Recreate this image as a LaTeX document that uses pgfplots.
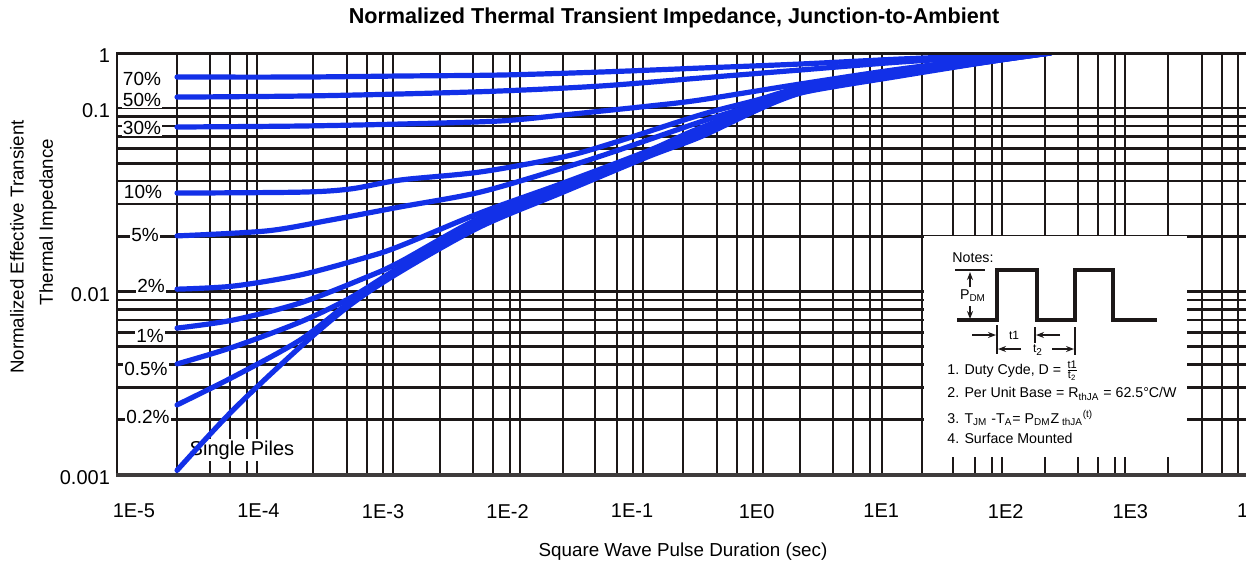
\documentclass[border=0pt]{standalone}
\usepackage{pgfplots}
\pgfplotsset{compat=1.18}
\usepackage{fontspec}
\setmainfont{Liberation Sans}
\usetikzlibrary{arrows.meta}
\definecolor{zblue}{RGB}{18,48,232}
\definecolor{gridk}{RGB}{28,24,24}
\newcommand{\pctfont}{\fontsize{9.5}{11}\selectfont}
\newcommand{\notefont}{\fontsize{7.1}{8.5}\selectfont}
\pgfplotsset{curve/.style={draw=zblue, line width=2.6pt, smooth, tension=0.5, line cap=round, no markers}}
\begin{document}
\begin{tikzpicture}
\begin{axis}[
  name=ax, at={(0,0)}, anchor=south west,
  scale only axis, width=575.15pt, height=211pt,
  xmode=log, ymode=log,
  xmin=7.315e-6, xmax=12589, ymin=0.001, ymax=0.19945,
  axis line style={draw=none},
  major tick length=0pt, minor tick length=0pt,
  xtick={1e-5,1e-4,1e-3,1e-2,1e-1,1,10,100,1000,10000},
  xticklabels={1E-5,1E-4,1E-3,1E-2,1E-1,1E0,1E1,1E2,1E3,1E4},
  minor xtick={2.22e-5,4.08e-5,5.92e-5,8.09e-5,9.73e-5,2.74e-4,5.14e-4,7.45e-4,1.0e-3,1.20e-3,2.87e-3,5.28e-3,7.64e-3,1.05e-2,1.26e-2,2.79e-2,5.04e-2,7.57e-2,0.1016,0.1222,0.2564,0.481,0.695,0.935,1.125,2.228,4.10,5.94,8.13,10.14,21.28,37.67,56.6,77.6,93.3,206.5,380.2,550.8,753.4,905.7,2009,3767,5445,7328,8810},
  xmajorgrids=false, xminorgrids=true,
  ytick={0.001,0.01,0.1,0.19945},
  yticklabels={0.001,0.01,0.1,1},
  minor ytick={0.002,0.003,0.004,0.005,0.006,0.007,0.008,0.009,0.02,0.03,0.04,0.05,0.06,0.07,0.08,0.09},
  ymajorgrids=true, yminorgrids=true,
  major grid style={gridk, line width=1.3pt},
  minor grid style={gridk, line width=1.3pt},
  xticklabel style={font=\fontsize{10}{12}\selectfont, yshift=-11pt},
  yticklabel style={font=\fontsize{10}{12}\selectfont, yshift=-1.5pt},
  y filter/.expression={ln(rawy) > -2.302585 ? -2.302585+(ln(rawy)+2.302585)*0.2997 : ln(rawy)},
]
% curve labels (below the curves)
\node[fill=white, inner sep=0.6pt, font=\pctfont] at (rel axis cs:0.02173,0.9384) {70\%};
\node[fill=white, inner sep=0.6pt, font=\pctfont] at (rel axis cs:0.02173,0.8886) {50\%};
\node[fill=white, inner sep=0.6pt, font=\pctfont] at (rel axis cs:0.02173,0.8223) {30\%};
\node[fill=white, inner sep=0.6pt, font=\pctfont] at (rel axis cs:0.0226,0.6706) {10\%};
\node[fill=white, inner sep=0.6pt, font=\pctfont] at (rel axis cs:0.02434,0.5687) {5\%};
\node[fill=white, inner sep=0.6pt, font=\pctfont] at (rel axis cs:0.02956,0.4479) {2\%};
\node[fill=white, inner sep=0.6pt, font=\pctfont] at (rel axis cs:0.02869,0.3294) {1\%};
\node[fill=white, inner sep=0.6pt, font=\pctfont] at (rel axis cs:0.02521,0.2512) {0.5\%};
\node[fill=white, inner sep=0.6pt, font=\pctfont] at (rel axis cs:0.02695,0.1374) {0.2\%};
\node[fill=white, inner sep=1pt, font=\fontsize{10}{12}\selectfont] at (rel axis cs:0.10867,0.05924) {Single Piles};
% 70%
\addplot[curve] coordinates {(2.22e-5,0.366) (2.16e-4,0.366) (1.37e-3,0.382) (8.70e-3,0.398) (5.53e-2,0.451) (0.351,0.533) (2.23,0.631) (14.2,0.778) (89.9,0.920) (227,1.0)};
% 50%
\addplot[curve] coordinates {(2.22e-5,0.158) (2.16e-4,0.165) (1.37e-3,0.180) (8.70e-3,0.204) (5.53e-2,0.251) (0.351,0.351) (2.23,0.491) (14.2,0.686) (89.9,0.882) (227,1.0)};
% 30%
\addplot[curve] coordinates {(2.22e-5,0.0788) (2.16e-4,0.0798) (1.37e-3,0.0818) (8.70e-3,0.0850) (2.79e-2,0.0916) (0.139,0.109) (0.351,0.140) (2.23,0.273) (14.2,0.512) (89.9,0.846) (227,1.0)};
% 10%
\addplot[curve] coordinates {(2.22e-5,0.0344) (2.16e-4,0.0348) (5.44e-4,0.0362) (1.37e-3,0.0405) (6.01e-3,0.0448) (2.79e-2,0.0541) (7.02e-2,0.0645) (0.351,0.0916) (1.01,0.140) (2.23,0.231) (14.2,0.471) (89.9,0.811) (227,1.0)};
% 5%
\addplot[curve] coordinates {(2.22e-5,0.0201) (1.17e-4,0.0214) (3.76e-4,0.0245) (1.37e-3,0.0289) (6.01e-3,0.0348) (2.79e-2,0.0471) (7.02e-2,0.0576) (0.351,0.0839) (1.01,0.118) (2.23,0.212) (14.2,0.451) (89.9,0.811) (227,1.0)};
% 2%
\addplot[curve] coordinates {(2.22e-5,0.0103) (6.25e-5,0.0107) (2.16e-4,0.0123) (7.44e-4,0.0154) (1.37e-3,0.0177) (6.01e-3,0.0268) (2.79e-2,0.0390) (0.139,0.0590) (0.351,0.0778) (2.23,0.204) (14.2,0.433) (89.9,0.778) (227,1.0)};
% 1%
\addplot[curve] coordinates {(2.22e-5,0.00632) (6.25e-5,0.00699) (2.16e-4,0.00866) (7.44e-4,0.0120) (1.37e-3,0.0145) (6.01e-3,0.0252) (2.79e-2,0.0376) (0.139,0.0576) (0.351,0.0750) (2.23,0.195) (14.2,0.415) (89.9,0.778) (227,1.0)};
% 0.5%
\addplot[curve] coordinates {(2.22e-5,0.00403) (6.25e-5,0.00498) (2.16e-4,0.00682) (5.44e-4,0.00922) (1.37e-3,0.0136) (6.01e-3,0.0242) (2.79e-2,0.0366) (0.139,0.0562) (0.351,0.0731) (2.23,0.195) (14.2,0.415) (89.9,0.746) (227,1.0)};
% 0.2%
\addplot[curve] coordinates {(2.22e-5,0.00241) (6.25e-5,0.00342) (2.16e-4,0.00544) (5.44e-4,0.00877) (1.37e-3,0.0131) (6.01e-3,0.0233) (2.79e-2,0.0357) (0.139,0.0554) (0.351,0.0713) (2.23,0.187) (14.2,0.398) (89.9,0.746) (227,1.0)};
% single pulse
\addplot[curve] coordinates {(2.22e-5,0.00106) (6.25e-5,0.00226) (2.16e-4,0.00498) (5.44e-4,0.00844) (1.37e-3,0.0128) (6.01e-3,0.0225) (2.79e-2,0.0348) (0.139,0.0548) (0.351,0.0695) (1.01,0.0975) (2.23,0.187) (14.2,0.382) (89.9,0.746) (227,1.0)};
\end{axis}
% overlay in reference-pixel coordinates
\begin{scope}[shift={(ax.south west)}, x=0.5pt, y=-0.5pt, shift={(-58.5pt,237.5pt)}]
  \coordinate (bbA) at (0,0);
  \coordinate (bbB) at (1246,564);
  % frame
  \draw[gridk, line width=1.5pt] (117,53) -- (1260,53);
  \draw[gridk, line width=1.4pt] (117,52) -- (117,476);
  \draw[gridk!85, line width=1.6pt] (116,475) -- (1260,475);
  % notes box
  \fill[white] (924,236) rectangle (1187,457);
  \node[font=\notefont] at (973,258) {Notes:};
  \draw[gridk, line width=2pt, line join=miter] (957,320) -- (997,320) -- (997,270) -- (1037,270) -- (1037,320) -- (1075,320) -- (1075,270) -- (1113,270) -- (1113,320) -- (1157,320);
  \draw[gridk, line width=0.7pt] (955,270) -- (985,270);
  \draw[gridk, line width=0.6pt, -{Stealth[length=4pt,width=3pt]}] (970,287) -- (970,272);
  \draw[gridk, line width=0.6pt, -{Stealth[length=4pt,width=3pt]}] (970,306) -- (970,319);
  \node[font=\notefont] at (973,296) {P\textsubscript{DM}};
  \draw[gridk, line width=0.6pt, -{Stealth[length=4pt,width=3pt]}] (972,335) -- (996,335);
  \draw[gridk, line width=0.8pt] (997,325) -- (997,354);
  \node[font=\fontsize{6}{7}\selectfont] at (1014,335) {t1};
  \draw[gridk, line width=0.6pt, -{Stealth[length=4pt,width=3pt]}] (1060,335) -- (1036,335);
  \draw[gridk, line width=0.8pt] (1035,327) -- (1035,343);
  \draw[gridk, line width=0.6pt, -{Stealth[length=4pt,width=3pt]}] (1021,349) -- (998,349);
  \node[font=\fontsize{6}{7}\selectfont] at (1038,350) {t\textsubscript{2}};
  \draw[gridk, line width=0.6pt, -{Stealth[length=4pt,width=3pt]}] (1052,349) -- (1074,349);
  \draw[gridk, line width=0.8pt] (1075,327) -- (1075,355);
  \node[anchor=west, inner sep=0pt, font=\notefont] at (947,371) {1. Duty Cyde, D = $\frac{\mbox{\fontsize{5.5}{6}\selectfont t1}}{\mbox{\fontsize{5.5}{6}\selectfont t\textsubscript{2}}}$};
  \node[anchor=west, inner sep=0pt, font=\notefont] at (947,394) {2. Per Unit Base = R\textsubscript{thJA} = 62.5°C/W};
  \node[anchor=west, inner sep=0pt, font=\notefont] at (947,418) {3. T\textsubscript{JM} -T\textsubscript{A}= P\textsubscript{DM}Z\textsubscript{ thJA}\textsuperscript{(t)}};
  \node[anchor=west, inner sep=0pt, font=\notefont] at (947,438) {4. Surface Mounted};
  % titles
  \node[font=\bfseries\fontsize{10.8}{13}\selectfont] at (674,18) {Normalized Thermal Transient Impedance, Junction-to-Ambient};
  \node[font=\fontsize{9.4}{11}\selectfont] at (683,552) {Square Wave Pulse Duration (sec)};
  \node[rotate=90, font=\fontsize{9.35}{11}\selectfont] at (17,247) {Normalized Effective Transient};
  \node[rotate=90, font=\fontsize{9.35}{11}\selectfont] at (48,222) {Thermal Impedance};
\end{scope}
\pgfresetboundingbox
\useasboundingbox (bbA) rectangle (bbB);
\end{tikzpicture}
\end{document}
